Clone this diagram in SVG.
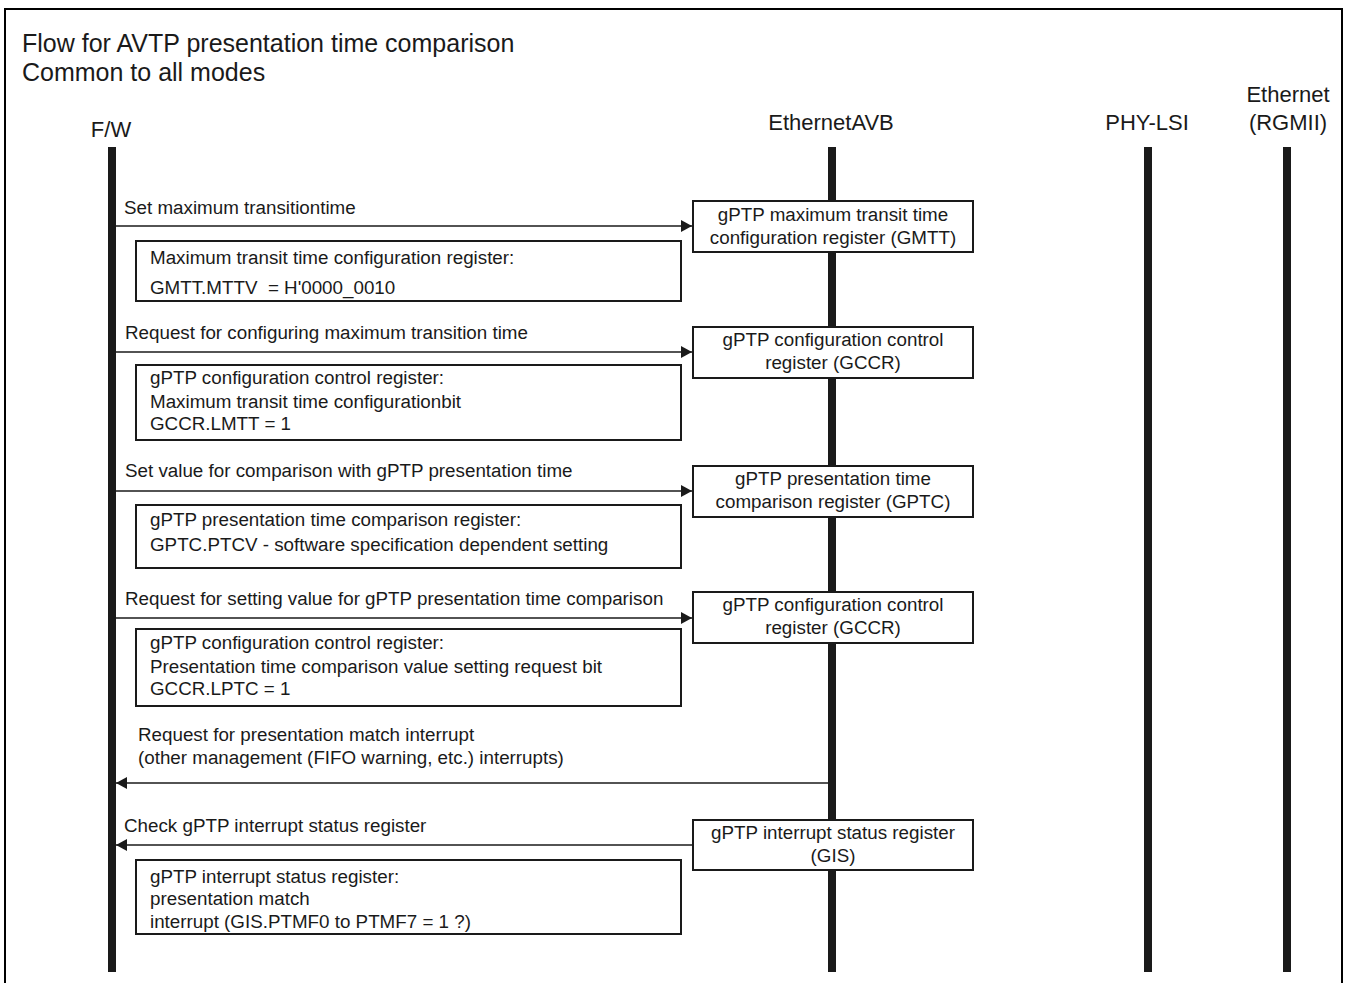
<svg xmlns="http://www.w3.org/2000/svg" width="1346" height="983" viewBox="0 0 1346 983">
<style>
text{font-family:"Liberation Sans",Arial,sans-serif;fill:#1a1a1a}
.t{font-size:25px}
.h{font-size:22px;text-anchor:middle}
.b{font-size:18.8px}
.c{font-size:18.8px;text-anchor:middle}
.box{fill:#fff;stroke:#1a1a1a;stroke-width:2}
.life{fill:#1a1a1a}
.msg{stroke:#1a1a1a;stroke-width:1.6;fill:none}
</style>
<defs>
<marker id="ah" viewBox="0 0 11 12" refX="11" refY="6" markerWidth="11" markerHeight="12" markerUnits="userSpaceOnUse" orient="auto">
<path d="M0,0 L11,6 L0,12 z" fill="#1a1a1a"/>
</marker>
</defs>
<rect width="1346" height="983" fill="#fff"/>
<path d="M5,983 V9 H1342 V983" fill="none" stroke="#000" stroke-width="2"/>
<g id="title">
<text class="t" x="22" y="52">Flow for AVTP presentation time comparison</text>
<text class="t" x="22" y="81">Common to all modes</text>
</g>
<g id="lifeline-fw">
<text class="h" x="111" y="137">F/W</text>
<rect class="life" x="108" y="147" width="8" height="825"/>
</g>
<g id="lifeline-avb">
<text class="h" x="831" y="130">EthernetAVB</text>
<rect class="life" x="828" y="147" width="8" height="825"/>
</g>
<g id="lifeline-phy">
<text class="h" x="1147" y="130">PHY-LSI</text>
<rect class="life" x="1144" y="147" width="8" height="825"/>
</g>
<g id="lifeline-eth">
<text class="h" x="1288" y="102">Ethernet</text>
<text class="h" x="1288" y="130">(RGMII)</text>
<rect class="life" x="1283" y="147" width="8" height="825"/>
</g>
<g id="connectors">
<line class="msg" x1="116" y1="226" x2="692" y2="226" marker-end="url(#ah)"/>
<line class="msg" x1="116" y1="352" x2="692" y2="352" marker-end="url(#ah)"/>
<line class="msg" x1="116" y1="491" x2="692" y2="491" marker-end="url(#ah)"/>
<line class="msg" x1="116" y1="618" x2="692" y2="618" marker-end="url(#ah)"/>
<line class="msg" x1="828" y1="783" x2="116" y2="783" marker-end="url(#ah)"/>
<line class="msg" x1="693" y1="845" x2="116" y2="845" marker-end="url(#ah)"/>
<text class="b" x="124" y="214">Set maximum transitiontime</text>
<text class="b" x="125" y="339">Request for configuring maximum transition time</text>
<text class="b" x="125" y="477">Set value for comparison with gPTP presentation time</text>
<text class="b" x="125" y="605">Request for setting value for gPTP presentation time comparison</text>
<text class="b" x="138" y="741">Request for presentation match interrupt</text>
<text class="b" x="138" y="764">(other management (FIFO warning, etc.) interrupts)</text>
<text class="b" x="124" y="832">Check gPTP interrupt status register</text>
</g>
<g id="reg-gmtt">
<rect class="box" x="693" y="201" width="280" height="51"/>
<text class="c" x="833" y="221">gPTP maximum transit time</text>
<text class="c" x="833" y="244">configuration register (GMTT)</text>
</g>
<g id="note-gmtt">
<rect class="box" x="136" y="241" width="545" height="60"/>
<text class="b" x="150" y="264">Maximum transit time configuration register:</text>
<text class="b" x="150" y="294" style="white-space:pre">GMTT.MTTV  = H'0000_0010</text>
</g>
<g id="reg-gccr-1">
<rect class="box" x="693" y="327" width="280" height="51"/>
<text class="c" x="833" y="346">gPTP configuration control</text>
<text class="c" x="833" y="369">register (GCCR)</text>
</g>
<g id="note-gccr-1">
<rect class="box" x="136" y="365" width="545" height="75"/>
<text class="b" x="150" y="384">gPTP configuration control register:</text>
<text class="b" x="150" y="408">Maximum transit time configurationbit</text>
<text class="b" x="150" y="430">GCCR.LMTT = 1</text>
</g>
<g id="reg-gptc">
<rect class="box" x="693" y="466" width="280" height="51"/>
<text class="c" x="833" y="485">gPTP presentation time</text>
<text class="c" x="833" y="508">comparison register (GPTC)</text>
</g>
<g id="note-gptc">
<rect class="box" x="136" y="505" width="545" height="63"/>
<text class="b" x="150" y="526">gPTP presentation time comparison register:</text>
<text class="b" x="150" y="551">GPTC.PTCV - software specification dependent setting</text>
</g>
<g id="reg-gccr-2">
<rect class="box" x="693" y="592" width="280" height="51"/>
<text class="c" x="833" y="611">gPTP configuration control</text>
<text class="c" x="833" y="634">register (GCCR)</text>
</g>
<g id="note-gccr-2">
<rect class="box" x="136" y="629" width="545" height="77"/>
<text class="b" x="150" y="649">gPTP configuration control register:</text>
<text class="b" x="150" y="673">Presentation time comparison value setting request bit</text>
<text class="b" x="150" y="695">GCCR.LPTC = 1</text>
</g>
<g id="reg-gis">
<rect class="box" x="693" y="820" width="280" height="50"/>
<text class="c" x="833" y="839">gPTP interrupt status register</text>
<text class="c" x="833" y="862">(GIS)</text>
</g>
<g id="note-gis">
<rect class="box" x="136" y="860" width="545" height="74"/>
<text class="b" x="150" y="883">gPTP interrupt status register:</text>
<text class="b" x="150" y="905">presentation match</text>
<text class="b" x="150" y="928">interrupt (GIS.PTMF0 to PTMF7 = 1 ?)</text>
</g>
</svg>
